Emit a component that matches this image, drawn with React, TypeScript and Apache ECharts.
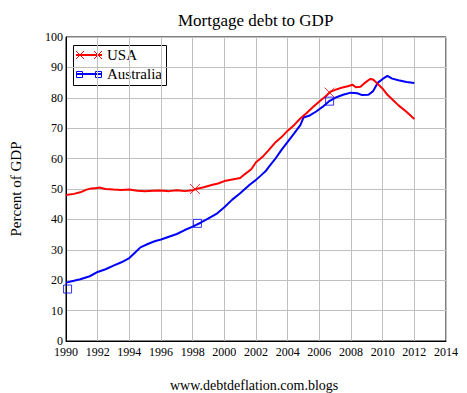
import React, { useEffect, useRef } from "react";
import * as echarts from "echarts";

const usaYears = [1990.0, 1990.5, 1990.9, 1991.3, 1991.6, 1992.0, 1992.1, 1992.5, 1993.0, 1993.5, 1994.0, 1994.5, 1995.0, 1995.5, 1996.0, 1996.5, 1997.0, 1997.5, 1998.0, 1998.2, 1998.7, 1999.2, 1999.6, 2000.0, 2000.5, 2001.0, 2001.3, 2001.7, 2002.0, 2002.4, 2002.8, 2003.2, 2003.6, 2004.0, 2004.4, 2004.8, 2005.2, 2005.6, 2006.0, 2006.4, 2006.7, 2007.0, 2007.4, 2007.8, 2008.1, 2008.3, 2008.6, 2008.9, 2009.2, 2009.4, 2009.7, 2010.0, 2010.3, 2010.6, 2011.0, 2011.5, 2012.0];
const usaValues = [48.0, 48.4, 48.9, 49.8, 50.2, 50.3, 50.5, 50.0, 49.8, 49.7, 49.8, 49.4, 49.3, 49.4, 49.5, 49.3, 49.6, 49.3, 49.6, 50.0, 50.6, 51.3, 51.8, 52.6, 53.1, 53.6, 54.9, 56.5, 58.8, 60.5, 62.8, 65.2, 67.0, 69.2, 71.0, 73.2, 75.0, 77.0, 78.8, 80.5, 82.0, 82.6, 83.3, 83.8, 84.3, 83.5, 83.6, 85.0, 86.2, 86.0, 84.5, 83.0, 81.0, 79.5, 77.5, 75.4, 73.0];

const ausYears = [1990.0, 1990.5, 1990.9, 1991.5, 1992.0, 1992.5, 1993.0, 1993.5, 1994.0, 1994.4, 1994.7, 1995.2, 1995.6, 1996.0, 1996.5, 1997.0, 1997.5, 1998.0, 1998.5, 1999.0, 1999.5, 2000.0, 2000.5, 2001.0, 2001.3, 2001.6, 2002.0, 2002.3, 2002.6, 2002.8, 2003.2, 2003.6, 2004.0, 2004.4, 2004.8, 2005.0, 2005.4, 2005.8, 2006.2, 2006.6, 2007.0, 2007.5, 2008.0, 2008.4, 2008.7, 2009.1, 2009.4, 2009.7, 2010.0, 2010.3, 2010.6, 2011.0, 2011.5, 2012.0];
const ausValues = [19.2, 19.8, 20.3, 21.3, 22.7, 23.6, 24.8, 25.9, 27.3, 29.3, 30.8, 32.0, 32.8, 33.4, 34.3, 35.2, 36.5, 37.6, 38.9, 40.3, 41.8, 44.0, 46.5, 48.6, 50.0, 51.4, 53.0, 54.4, 55.8, 57.2, 59.8, 62.8, 65.5, 68.2, 71.0, 73.5, 74.2, 75.5, 77.0, 78.8, 80.0, 81.0, 81.7, 81.5, 80.9, 81.0, 82.2, 85.0, 86.2, 87.2, 86.3, 85.8, 85.2, 84.9];

const usaMarkerYears = [1998.15, 2006.65];
const usaMarkerValues = [50.0, 81.7];
const ausMarkerYears = [1990.1, 1998.3, 2006.65];
const ausMarkerValues = [17.1, 38.7, 78.9];

const seriesNames = ["USA", "Australia"];
const titleText = "Mortgage debt to GDP";
const yAxisTitle = "Percent of GDP";
const footerText = "www.debtdeflation.com.blogs";

const FONT = "Liberation Serif";

const zip = (xs: number[], ys: number[]) => xs.map((x, i) => [x, ys[i]]);

export default function App() {
  const ref = useRef<HTMLDivElement>(null);
  useEffect(() => {
    if (!ref.current) return;
    const chart = echarts.init(ref.current, null, { renderer: "svg" });
    const lx = 73, ly = 45;
    chart.setOption({
      animation: false,
      backgroundColor: "#fff",
      textStyle: { fontFamily: FONT },
      title: [
        {
          text: titleText,
          left: 173,
          top: 7,
          textStyle: { fontFamily: FONT, fontSize: 17, fontWeight: "normal", color: "#000" },
        },
        {
          text: footerText,
          left: 165,
          top: 373,
          textStyle: { fontFamily: FONT, fontSize: 14, fontWeight: "normal", color: "#000" },
        },
      ],
      grid: { left: 65, right: 21, top: 37, bottom: 52, show: true, borderColor: "#000", borderWidth: 1, backgroundColor: "#fff" },
      xAxis: {
        type: "value",
        min: 1990,
        max: 2014,
        interval: 2,
        axisLine: { show: true, lineStyle: { color: "#000" } },
        axisTick: { show: false },
        splitLine: { show: true, lineStyle: { color: "#c0c0c0", width: 1 } },
        axisLabel: { formatter: (v: number) => String(v), fontFamily: FONT, fontSize: 12, color: "#000", margin: 5 },
      },
      yAxis: {
        type: "value",
        min: 0,
        max: 100,
        interval: 10,
        name: yAxisTitle,
        nameLocation: "middle",
        nameRotate: 90,
        nameGap: 43,
        nameTextStyle: { fontFamily: FONT, fontSize: 15, color: "#000" },
        axisLine: { show: true, lineStyle: { color: "#000" } },
        axisTick: { show: false },
        splitLine: { show: true, lineStyle: { color: "#c0c0c0", width: 1 } },
        axisLabel: { fontFamily: FONT, fontSize: 12, color: "#000", margin: 3 },
      },
      series: [
        {
          name: seriesNames[0],
          type: "line",
          data: zip(usaYears, usaValues),
          symbol: "none",
          lineStyle: { color: "#ff0000", width: 2 },
          itemStyle: { color: "#ff0000" },
          z: 3,
        },
        {
          name: seriesNames[1],
          type: "line",
          data: zip(ausYears, ausValues),
          symbol: "none",
          lineStyle: { color: "#0000ff", width: 2 },
          itemStyle: { color: "#0000ff" },
          z: 2,
        },
        {
          name: seriesNames[0] + " markers",
          type: "scatter",
          data: zip(usaMarkerYears, usaMarkerValues),
          symbol: "path://M0,0L10,10M10,0L0,10",
          symbolSize: 10,
          itemStyle: { color: "none", borderColor: "#ff0000", borderWidth: 1 },
          z: 4,
        },
        {
          name: seriesNames[1] + " markers",
          type: "scatter",
          data: zip(ausMarkerYears, ausMarkerValues),
          symbol: "rect",
          symbolSize: 8,
          itemStyle: { color: "rgba(0,0,0,0)", borderColor: "#0000ff", borderWidth: 1 },
          z: 4,
        },
      ],
      graphic: [
        {
          type: "group",
          z: 100,
          children: [
            { type: "rect", shape: { x: lx + 0.5, y: ly + 0.5, width: 93, height: 40 }, style: { fill: "#fff", stroke: "#000", lineWidth: 1 } },
            { type: "line", shape: { x1: lx + 3, y1: ly + 10, x2: lx + 29, y2: ly + 10 }, style: { stroke: "#ff0000", lineWidth: 2 } },
            { type: "line", shape: { x1: lx + 3, y1: ly + 6, x2: lx + 11, y2: ly + 14 }, style: { stroke: "#ff0000", lineWidth: 1 } },
            { type: "line", shape: { x1: lx + 3, y1: ly + 14, x2: lx + 11, y2: ly + 6 }, style: { stroke: "#ff0000", lineWidth: 1 } },
            { type: "line", shape: { x1: lx + 21, y1: ly + 6, x2: lx + 29, y2: ly + 14 }, style: { stroke: "#ff0000", lineWidth: 1 } },
            { type: "line", shape: { x1: lx + 21, y1: ly + 14, x2: lx + 29, y2: ly + 6 }, style: { stroke: "#ff0000", lineWidth: 1 } },
            { type: "text", x: lx + 34, y: ly + 10, style: { text: seriesNames[0], fill: "#000", font: `15px ${FONT}`, textVerticalAlign: "middle" } },
            { type: "line", shape: { x1: lx + 3, y1: ly + 29, x2: lx + 29, y2: ly + 29 }, style: { stroke: "#0000ff", lineWidth: 2 } },
            { type: "rect", shape: { x: lx + 3.5, y: ly + 26.5, width: 6, height: 6 }, style: { fill: "none", stroke: "#0000ff", lineWidth: 1 } },
            { type: "rect", shape: { x: lx + 22.5, y: ly + 26.5, width: 6, height: 6 }, style: { fill: "none", stroke: "#0000ff", lineWidth: 1 } },
            { type: "text", x: lx + 34, y: ly + 29, style: { text: seriesNames[1], fill: "#000", font: `15px ${FONT}`, textVerticalAlign: "middle" } },
          ],
        },
      ],
    });
    return () => chart.dispose();
  }, []);
  return <div ref={ref} style={{ width: 467, height: 393, position: "absolute", left: 0, top: 0 }} />;
}
